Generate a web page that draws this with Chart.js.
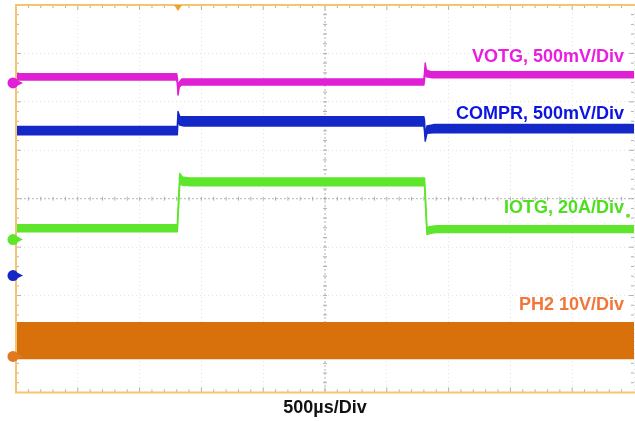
<!DOCTYPE html>
<html>
<head>
<meta charset="utf-8">
<script src="https://cdn.jsdelivr.net/npm/chart.js@4.4.1/dist/chart.umd.min.js"></script>
<style>
  html, body { margin: 0; padding: 0; background: #fff; }
  canvas { display: block; }
</style>
</head>
<body>
<canvas id="scope" width="635" height="421"></canvas>
<script>
// time in µs (500µs/Div, 10 div), levels in divisions from screen centre.
// each trace is a noisy band: upper and lower envelope
const votgT  = [0, 1300, 1305, 1311, 1320, 1340, 3300, 3305, 3311, 3320, 3360, 5000];
const votgHi = [2.58, 2.58, 2.50, 2.20, 2.40, 2.47, 2.47, 2.60, 2.80, 2.66, 2.62, 2.62];
const votgLo = [2.45, 2.45, 2.40, 2.14, 2.30, 2.35, 2.35, 2.45, 2.70, 2.52, 2.50, 2.50];

const comprT  = [0, 1305, 1311, 1325, 1360, 3300, 3305, 3311, 3325, 3380, 5000];
const comprHi = [1.49, 1.49, 1.80, 1.70, 1.69, 1.69, 1.62, 1.30, 1.50, 1.53, 1.53];
const comprLo = [1.32, 1.32, 1.65, 1.52, 1.50, 1.50, 1.40, 1.19, 1.35, 1.36, 1.36];

const iotgT  = [0, 1305, 1325, 1345, 1400, 3305, 3325, 3345, 3400, 5000];
const iotgHi = [-0.54, -0.54, 0.52, 0.45, 0.43, 0.43, -0.60, -0.58, -0.56, -0.56];
const iotgLo = [-0.68, -0.68, 0.30, 0.28, 0.27, 0.27, -0.74, -0.72, -0.70, -0.70];

const ph2T  = [0, 5000];
const ph2Hi = [-2.56, -2.56];
const ph2Lo = [-3.30, -3.30];

// channel ground markers on the left edge
const markerLevels = [2.39, -0.845, -1.588, -3.258];
const markerColors = ["#e020d4", "#5ee62c", "#1428c8", "#e07a20"];
const triggerTime = 1311;

const labels = [
  { text: "VOTG, 500mV/Div", level: 2.93, color: "#e81ee0" },
  { text: "COMPR, 500mV/Div", level: 1.75, color: "#0c14e0" },
  { text: "IOTG, 20A/Div", level: -0.19, color: "#4ee01e" },
  { text: "PH2 10V/Div", level: -2.19, color: "#f2763a" }
];

function pts(t, v) {
  return t.map((x, i) => ({ x: x, y: v[i] }));
}

function band(t, lo, hi, color) {
  return [
    { data: pts(t, lo), borderColor: color, backgroundColor: color, borderWidth: 1.5, fill: false },
    { data: pts(t, hi), borderColor: color, backgroundColor: color, borderWidth: 1.5, fill: "-1" }
  ];
}

// graticule, border, markers and channel labels
const scopeDecor = {
  id: "scopeDecor",
  beforeDatasetsDraw(chart) {
    const ctx = chart.ctx;
    const a = chart.chartArea;
    const xs = chart.scales.x, ys = chart.scales.y;
    const cx = xs.getPixelForValue(2500), cy = ys.getPixelForValue(0);
    const dx = (a.right - a.left) / 50, dy = (a.bottom - a.top) / 40;
    ctx.save();
    // centre cross
    ctx.strokeStyle = "#b8b8b8";
    ctx.lineWidth = 1;
    ctx.setLineDash([2, 2]);
    ctx.beginPath();
    ctx.moveTo(cx, a.top); ctx.lineTo(cx, a.bottom);
    ctx.moveTo(a.left, cy); ctx.lineTo(a.right, cy);
    ctx.stroke();
    ctx.setLineDash([]);
    ctx.strokeStyle = "#b0b0b0";
    ctx.beginPath();
    for (let i = 1; i < 50; i++) {
      const x = a.left + i * dx;
      const l = i % 5 === 0 ? 5 : 3;
      ctx.moveTo(x, cy - 2); ctx.lineTo(x, cy + 2);
      ctx.moveTo(x, a.top); ctx.lineTo(x, a.top + l);
      ctx.moveTo(x, a.bottom); ctx.lineTo(x, a.bottom - l);
    }
    for (let j = 1; j < 40; j++) {
      const y = a.top + j * dy;
      const l = j % 5 === 0 ? 5 : 3;
      ctx.moveTo(cx - 2, y); ctx.lineTo(cx + 2, y);
      ctx.moveTo(a.left, y); ctx.lineTo(a.left + l, y);
      ctx.moveTo(a.right, y); ctx.lineTo(a.right - l, y);
    }
    ctx.stroke();
    ctx.restore();
  },
  afterDatasetsDraw(chart) {
    const ctx = chart.ctx;
    const a = chart.chartArea;
    const xs = chart.scales.x, ys = chart.scales.y;
    ctx.save();
    // frame
    ctx.strokeStyle = "#f3c56c";
    ctx.lineWidth = 2;
    ctx.beginPath();
    ctx.moveTo(a.right + 2, a.top); ctx.lineTo(a.left, a.top);
    ctx.lineTo(a.left, a.bottom); ctx.lineTo(a.right + 2, a.bottom);
    ctx.stroke();
    // trigger marker
    const tx = xs.getPixelForValue(triggerTime);
    ctx.fillStyle = "#f0a030";
    ctx.beginPath();
    ctx.moveTo(tx - 4, a.top); ctx.lineTo(tx + 4, a.top); ctx.lineTo(tx, a.top + 6);
    ctx.closePath(); ctx.fill();
    // channel markers
    markerLevels.forEach((lv, i) => {
      const y = ys.getPixelForValue(lv);
      const x = a.left - 3;
      ctx.fillStyle = markerColors[i];
      ctx.beginPath(); ctx.arc(x, y, 5.5, 0, Math.PI * 2); ctx.fill();
      ctx.beginPath();
      ctx.moveTo(x + 5, y - 2.5); ctx.lineTo(x + 10, y); ctx.lineTo(x + 5, y + 2.5);
      ctx.closePath(); ctx.fill();
    });
    // trigger level dot at right
    ctx.fillStyle = "#5ee62c";
    ctx.beginPath();
    ctx.arc(a.right - 6, ys.getPixelForValue(-0.35), 2, 0, Math.PI * 2);
    ctx.fill();
    // channel labels
    ctx.font = "bold 18px 'Liberation Sans', Arial, sans-serif";
    ctx.textAlign = "right";
    ctx.textBaseline = "middle";
    labels.forEach(l => {
      ctx.fillStyle = l.color;
      ctx.fillText(l.text, 624, ys.getPixelForValue(l.level));
    });
    ctx.restore();
  }
};

new Chart(document.getElementById("scope"), {
  type: "line",
  data: {
    datasets: [
      ...band(ph2T, ph2Lo, ph2Hi, "#d8700c"),
      ...band(iotgT, iotgLo, iotgHi, "#5ee62c"),
      ...band(comprT, comprLo, comprHi, "#1428c8"),
      ...band(votgT, votgLo, votgHi, "#e020d4")
    ]
  },
  options: {
    responsive: false,
    animation: false,
    layout: { padding: { left: 16, top: 5, right: 1, bottom: 0 } },
    elements: { point: { radius: 0 }, line: { tension: 0, borderJoinStyle: "round" } },
    plugins: { legend: { display: false }, tooltip: { enabled: false } },
    scales: {
      x: {
        type: "linear", min: 0, max: 5000,
        ticks: { display: false, stepSize: 500 },
        grid: { color: "#e4e4e4", drawTicks: false },
        border: { display: false, dash: [1, 3] },
        title: {
          display: true, text: "500µs/Div", color: "#111",
          font: { family: "'Liberation Sans', Arial, sans-serif", size: 18, weight: "bold" },
          padding: { top: 5, bottom: 2 }
        }
      },
      y: {
        type: "linear", min: -4, max: 4,
        ticks: { display: false, stepSize: 1 },
        grid: { color: "#e4e4e4", drawTicks: false },
        border: { display: false, dash: [1, 3] }
      }
    }
  },
  plugins: [scopeDecor]
});
</script>
</body>
</html>
